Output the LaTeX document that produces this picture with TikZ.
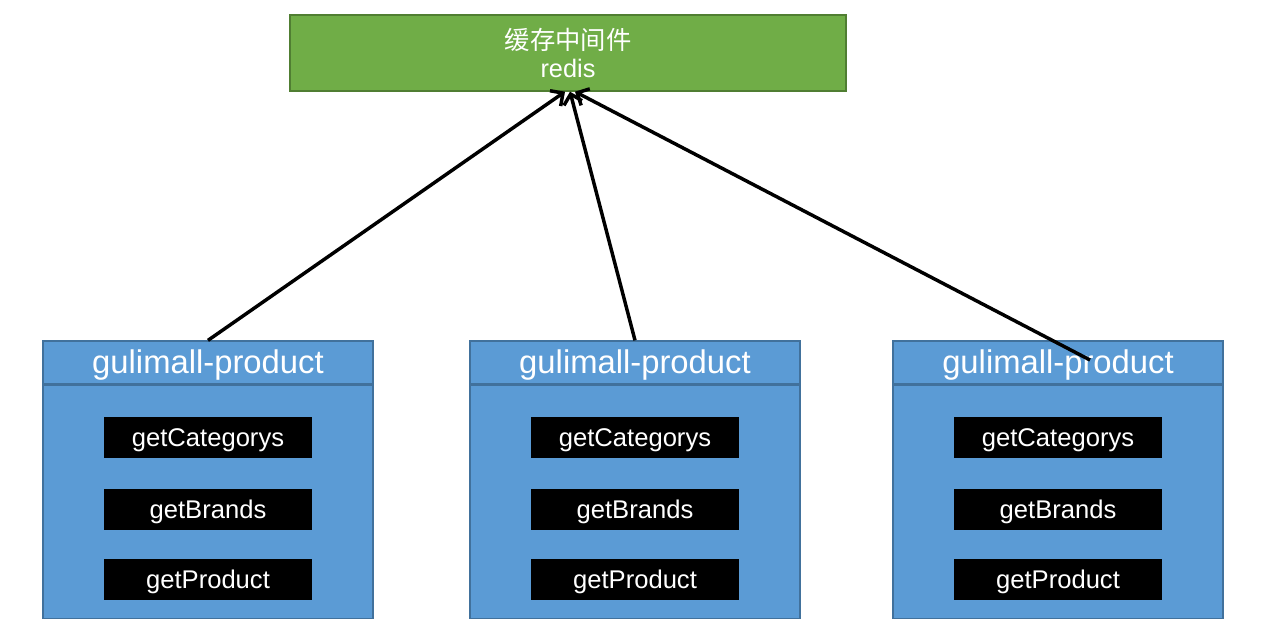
\documentclass[tikz,border=0pt]{standalone}
\usepackage{fontspec}
\setmainfont{Liberation Sans}
\newfontfamily\cjk{Noto Sans CJK SC}
\usetikzlibrary{arrows.meta}
\definecolor{cachegreen}{HTML}{70AD47}
\definecolor{cacheedge}{HTML}{507E32}
\definecolor{svcblue}{HTML}{5B9BD5}
\definecolor{svcedge}{HTML}{41719C}
\tikzset{
  cachebox/.style={draw=cacheedge, fill=cachegreen, line width=1pt, text=white,
    minimum width=417pt, minimum height=57pt, align=center,
    font=\fontsize{19}{21}\selectfont},
  headbox/.style={draw=svcedge, fill=svcblue, line width=1pt, text=white,
    minimum width=247.5pt, minimum height=32.25pt, inner sep=0pt,
    text height=21pt, text depth=4.5pt,
    font=\fontsize{24.6}{28}\selectfont},
  bodybox/.style={draw=svcedge, fill=svcblue, line width=1pt,
    minimum width=247.5pt, minimum height=174.75pt, inner sep=0pt},
  callbox/.style={fill=black, text=white, minimum width=156pt, minimum height=30.75pt,
    inner sep=0pt, text height=16pt, text depth=2pt,
    font=\fontsize{19.2}{22}\selectfont},
  cacheline/.style={line width=2.6pt, -{Straight Barb[length=7pt,width=14pt,line width=2.6pt]}}
}
\begin{document}
\begin{tikzpicture}[x=0.75pt,y=-0.75pt]
  \useasboundingbox (0,0) rectangle (1276,640);
  \node[cachebox] (redis) at (568,53) {{\cjk 缓存中间件}\\redis};
  % first service
  \begin{scope}
  \node[headbox] (headA) at (208,362.5) {gulimall-product};
  \node[bodybox, anchor=north] (bodyA) at (headA.south) {};
  \node[callbox] (catA) at (208,437.5) {getCategorys};
  \node[callbox] (brandA) at (208,509.5) {getBrands};
  \node[callbox] (prodA) at (208,579.5) {getProduct};
  \end{scope}
  % second service
  \begin{scope}[shift={(427,0)}]
  \node[headbox] (headB) at (208,362.5) {gulimall-product};
  \node[bodybox, anchor=north] (bodyB) at (headB.south) {};
  \node[callbox] (catB) at (208,437.5) {getCategorys};
  \node[callbox] (brandB) at (208,509.5) {getBrands};
  \node[callbox] (prodB) at (208,579.5) {getProduct};
  \end{scope}
  % third service
  \begin{scope}[shift={(850,0)}]
  \node[headbox] (headC) at (208,362.5) {gulimall-product};
  \node[bodybox, anchor=north] (bodyC) at (headC.south) {};
  \node[callbox] (catC) at (208,437.5) {getCategorys};
  \node[callbox] (brandC) at (208,509.5) {getBrands};
  \node[callbox] (prodC) at (208,579.5) {getProduct};
  \coordinate (tailC) at (240,360);
  \end{scope}
  \draw[cacheline] (headA.north) -- ([xshift=-2.25pt]redis.south);
  \draw[cacheline] (headB.north) -- ([xshift=1.5pt]redis.south);
  \draw[cacheline] (tailC) -- ([xshift=5.25pt]redis.south);
\end{tikzpicture}
\end{document}
